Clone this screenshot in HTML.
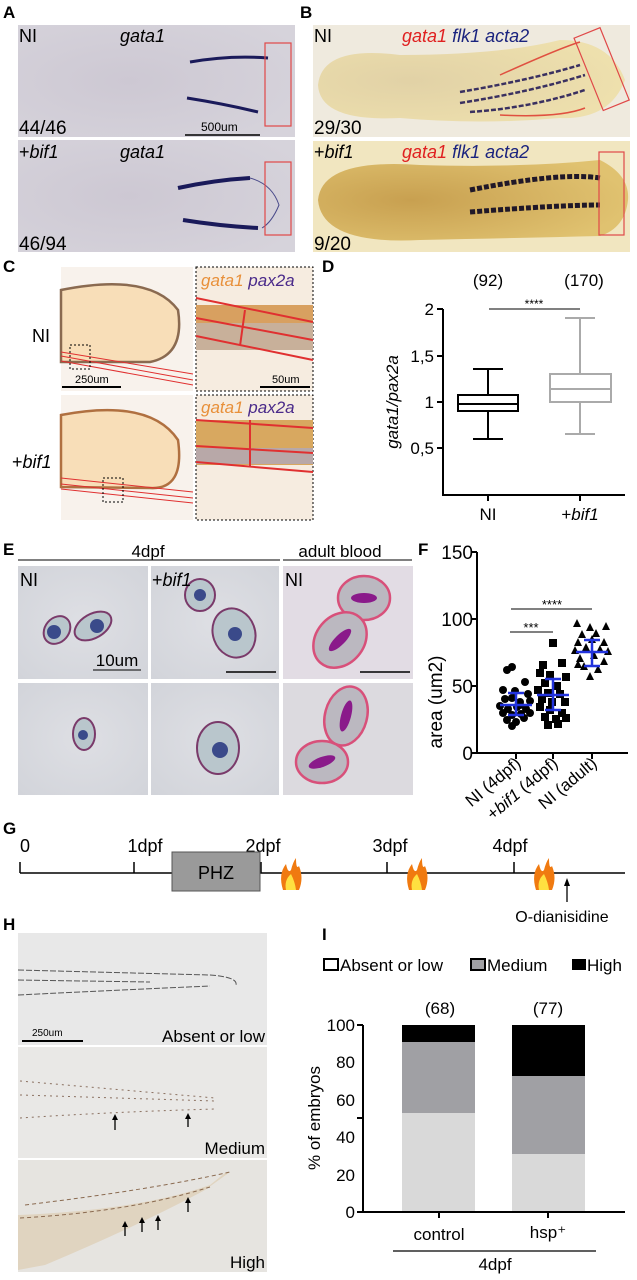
<!DOCTYPE html>
<html><head><meta charset="utf-8"><style>
html,body{margin:0;padding:0;background:#fff}
svg{display:block;font-family:"Liberation Sans",Arial,sans-serif}
</style></head><body>
<svg width="637" height="1280" viewBox="0 0 637 1280" xmlns="http://www.w3.org/2000/svg">
<defs>
<radialGradient id="embA" cx="0.4" cy="0.5" r="0.7"><stop offset="0" stop-color="#cdc8d3"/><stop offset="1" stop-color="#d6d3db"/></radialGradient>
<radialGradient id="embB1" cx="0.3" cy="0.5" r="0.7"><stop offset="0" stop-color="#e0cfa0"/><stop offset="1" stop-color="#eedfa8"/></radialGradient>
<radialGradient id="embB2" cx="0.3" cy="0.5" r="0.7"><stop offset="0" stop-color="#c8a050"/><stop offset="1" stop-color="#e0c270"/></radialGradient>
<radialGradient id="cellbg" cx="0.5" cy="0.5" r="0.7"><stop offset="0" stop-color="#dedfe4"/><stop offset="1" stop-color="#d2d4da"/></radialGradient>
</defs>
<g font-weight="bold" font-size="17">
<text x="3" y="18">A</text><text x="300" y="18">B</text><text x="3" y="272">C</text>
<text x="322" y="272">D</text><text x="3" y="555">E</text><text x="418" y="555">F</text>
<text x="3" y="834">G</text><text x="3" y="930">H</text><text x="322" y="940">I</text>
</g>
<!-- Panel A -->
<rect x="18" y="25" width="277" height="112" fill="url(#embA)"/>
<rect x="18" y="140" width="277" height="112" fill="url(#embA)"/>
<path d="M190 62 Q230 55 268 58" stroke="#1a1a5a" stroke-width="3" fill="none"/>
<path d="M187 98 Q225 104 258 112" stroke="#1a1a5a" stroke-width="3" fill="none"/>
<rect x="265" y="43" width="26" height="83" fill="none" stroke="#e04848" stroke-width="1.2"/>
<line x1="185" y1="135" x2="260" y2="135" stroke="#000" stroke-width="1.5"/>
<text x="201" y="131" font-size="12">500um</text>
<text x="19" y="42" font-size="18">NI</text><text x="120" y="42" font-size="18" font-style="italic">gata1</text>
<text x="19" y="134" font-size="19">44/46</text>
<path d="M250 178 Q272 184 279 205 Q272 222 262 228" stroke="#4a4a8a" stroke-width="1" fill="none"/>
<path d="M178 188 Q215 180 250 178" stroke="#1a1a5a" stroke-width="4" fill="none"/>
<path d="M183 220 Q220 226 258 228" stroke="#1a1a5a" stroke-width="4" fill="none"/>
<rect x="265" y="162" width="26" height="73" fill="none" stroke="#e04848" stroke-width="1.2"/>
<text x="19" y="158" font-size="18">+<tspan font-style="italic">bif1</tspan></text>
<text x="120" y="158" font-size="18" font-style="italic">gata1</text>
<text x="19" y="250" font-size="19">46/94</text>
<!-- Panel B -->
<rect x="313" y="25" width="317" height="112" fill="#efeade"/>
<path d="M318 85 Q322 45 400 55 Q500 55 560 40 Q610 40 625 80 Q610 120 560 118 Q480 125 400 118 Q320 122 318 85Z" fill="url(#embB1)" opacity="0.9"/>
<path d="M500 75 Q560 48 580 42 M500 115 Q560 118 585 108" stroke="#e05040" stroke-width="1.5" fill="none"/>
<path d="M460 92 Q530 80 580 65 M460 103 Q530 92 585 75 M470 112 Q530 108 585 90" stroke="#3a3060" stroke-width="2.5" stroke-dasharray="5 2" fill="none"/>
<rect x="588" y="30" width="28" height="78" fill="none" stroke="#e04848" stroke-width="1.2" transform="rotate(-22 602 70)"/>
<text x="314" y="42" font-size="18">NI</text>
<text x="402" y="42" font-size="18" font-style="italic"><tspan fill="#e02020">gata1</tspan> <tspan fill="#1a237e">flk1</tspan> <tspan fill="#1a237e">acta2</tspan></text>
<text x="314" y="134" font-size="19">29/30</text>
<rect x="313" y="141" width="317" height="111" fill="#f1e6c0"/>
<path d="M318 200 Q322 158 420 165 Q520 168 600 160 Q630 175 628 200 Q625 228 600 236 Q520 238 420 240 Q322 245 318 200Z" fill="url(#embB2)"/>
<path d="M470 190 Q560 172 600 178 M470 212 Q560 205 600 205" stroke="#201828" stroke-width="5" stroke-dasharray="5 2" fill="none"/>
<rect x="599" y="152" width="25" height="83" fill="none" stroke="#e04848" stroke-width="1.2"/>
<text x="314" y="158" font-size="18">+<tspan font-style="italic">bif1</tspan></text>
<text x="402" y="158" font-size="18" font-style="italic"><tspan fill="#e02020">gata1</tspan> <tspan fill="#1a237e">flk1</tspan> <tspan fill="#1a237e">acta2</tspan></text>
<text x="314" y="250" font-size="19">9/20</text>
<!-- Panel C -->
<rect x="61" y="267" width="132" height="124" fill="#f8f2ec"/>
<path d="M61 290 Q150 272 178 310 Q185 355 150 362 L61 362Z" fill="#f8deb8" stroke="#8a6a50" stroke-width="2.5"/>
<path d="M61 352 L193 374 M61 356 L193 380 M61 361 L193 385" stroke="#e03030" stroke-width="1"/>
<rect x="70" y="345" width="20" height="24" fill="none" stroke="#000" stroke-dasharray="2 2"/>
<line x1="62" y1="387" x2="121" y2="387" stroke="#000" stroke-width="2"/>
<text x="75" y="383" font-size="11">250um</text>
<rect x="61" y="395" width="132" height="125" fill="#f8f2ec"/>
<path d="M61 415 Q150 398 178 440 Q185 490 150 488 L61 487Z" fill="#f8deb8" stroke="#b07040" stroke-width="2.5"/>
<path d="M61 478 L193 492 M61 484 L193 498 M61 489 L193 503" stroke="#e03030" stroke-width="1"/>
<rect x="103" y="478" width="20" height="24" fill="none" stroke="#000" stroke-dasharray="2 2"/>
<rect x="196" y="267" width="117" height="124" fill="#f6ece0" stroke="#000" stroke-dasharray="2 2"/>
<rect x="196" y="305" width="117" height="45" fill="#c8b09a"/>
<rect x="196" y="305" width="117" height="18" fill="#d8a060"/>
<path d="M196 298 L313 322 M196 318 L313 340 M196 336 L313 360 M245 310 L240 346" stroke="#e03030" stroke-width="2"/>
<line x1="260" y1="387" x2="310" y2="387" stroke="#000" stroke-width="2"/>
<text x="272" y="383" font-size="11">50um</text>
<text x="201" y="286" font-size="17" font-style="italic"><tspan fill="#e8903a">gata1</tspan> <tspan fill="#4a2a8a">pax2a</tspan></text>
<rect x="196" y="395" width="117" height="125" fill="#f6ece0" stroke="#000" stroke-dasharray="2 2"/>
<rect x="196" y="420" width="117" height="45" fill="#d8a860"/>
<rect x="196" y="448" width="117" height="16" fill="#b8a8a8"/>
<path d="M196 420 L313 428 M196 446 L313 453 M196 462 L313 472 M250 420 L250 466" stroke="#e03030" stroke-width="2"/>
<text x="201" y="413" font-size="17" font-style="italic"><tspan fill="#e8903a">gata1</tspan> <tspan fill="#4a2a8a">pax2a</tspan></text>
<text x="32" y="342" font-size="18">NI</text>
<text x="12" y="468" font-size="18">+<tspan font-style="italic">bif1</tspan></text>
<!-- Panel D -->
<text x="488" y="286" font-size="17" text-anchor="middle">(92)</text>
<text x="584" y="286" font-size="17" text-anchor="middle">(170)</text>
<line x1="489" y1="309" x2="580" y2="309" stroke="#000"/>
<text x="534" y="308" font-size="12" text-anchor="middle">****</text>
<path d="M443 309 V495 H625" stroke="#000" stroke-width="2" fill="none"/>
<g stroke="#000" stroke-width="2"><line x1="437" y1="309" x2="443" y2="309"/><line x1="437" y1="356" x2="443" y2="356"/><line x1="437" y1="402" x2="443" y2="402"/><line x1="437" y1="448" x2="443" y2="448"/><line x1="488" y1="495" x2="488" y2="501"/><line x1="580" y1="495" x2="580" y2="501"/></g>
<g font-size="17" text-anchor="end"><text x="434" y="315">2</text><text x="434" y="362">1,5</text><text x="434" y="408">1</text><text x="434" y="454">0,5</text></g>
<text transform="translate(398 402) rotate(-90)" font-size="17" font-style="italic" text-anchor="middle">gata1/pax2a</text>
<g stroke="#000" stroke-width="2" fill="none"><line x1="488" y1="369" x2="488" y2="395"/><line x1="488" y1="411" x2="488" y2="439"/><line x1="473" y1="369" x2="503" y2="369"/><line x1="473" y1="439" x2="503" y2="439"/><rect x="458" y="395" width="60" height="16"/><line x1="458" y1="404" x2="518" y2="404"/></g>
<g stroke="#aaa" stroke-width="2" fill="none"><line x1="580" y1="318" x2="580" y2="374"/><line x1="580" y1="402" x2="580" y2="434"/><line x1="565" y1="318" x2="595" y2="318"/><line x1="565" y1="434" x2="595" y2="434"/><rect x="550" y="374" width="61" height="28"/><line x1="550" y1="389" x2="611" y2="389"/></g>
<text x="488" y="520" font-size="17" text-anchor="middle">NI</text>
<text x="580" y="520" font-size="17" text-anchor="middle">+<tspan font-style="italic">bif1</tspan></text>
<!-- Panel E -->
<text x="148" y="557" font-size="17" text-anchor="middle">4dpf</text>
<line x1="18" y1="560" x2="280" y2="560" stroke="#000"/>
<text x="340" y="557" font-size="17" text-anchor="middle">adult blood</text>
<line x1="283" y1="560" x2="412" y2="560" stroke="#000"/>
<rect x="18" y="566" width="130" height="113" fill="url(#cellbg)"/>
<rect x="151" y="566" width="128" height="113" fill="url(#cellbg)"/>
<rect x="283" y="566" width="130" height="113" fill="#e2dce4"/>
<rect x="18" y="683" width="130" height="112" fill="url(#cellbg)"/>
<rect x="151" y="683" width="128" height="112" fill="url(#cellbg)"/>
<rect x="283" y="683" width="130" height="112" fill="#dcdadf"/>
<g stroke="#7a3a6a" stroke-width="2" fill="#b9c6cc">
<ellipse cx="57" cy="630" rx="12" ry="15" transform="rotate(40 57 630)"/><ellipse cx="93" cy="626" rx="20" ry="12" transform="rotate(-30 93 626)"/>
<ellipse cx="200" cy="595" rx="15" ry="16"/><ellipse cx="234" cy="633" rx="21" ry="25" transform="rotate(-20 234 633)"/>
<ellipse cx="84" cy="734" rx="11" ry="16"/><ellipse cx="218" cy="748" rx="21" ry="26"/>
</g>
<g fill="#3a4a8a"><circle cx="54" cy="632" r="7"/><circle cx="97" cy="626" r="7"/><circle cx="200" cy="595" r="6"/><circle cx="235" cy="634" r="7"/><circle cx="83" cy="735" r="5"/><circle cx="220" cy="750" r="8"/></g>
<g stroke="#d8507a" stroke-width="2.5" fill="#bbb8c0">
<ellipse cx="364" cy="598" rx="26" ry="22"/><ellipse cx="340" cy="640" rx="24" ry="30" transform="rotate(40 340 640)"/>
<ellipse cx="346" cy="716" rx="21" ry="30" transform="rotate(15 346 716)"/><ellipse cx="322" cy="762" rx="26" ry="21"/>
</g>
<g fill="#8a1a8a"><ellipse cx="364" cy="598" rx="13" ry="5"/><ellipse cx="340" cy="640" rx="15" ry="5" transform="rotate(-45 340 640)"/><ellipse cx="346" cy="716" rx="5" ry="16" transform="rotate(15 346 716)"/><ellipse cx="322" cy="762" rx="14" ry="5" transform="rotate(-20 322 762)"/></g>
<text x="20" y="586" font-size="18">NI</text><text x="152" y="586" font-size="18">+<tspan font-style="italic">bif1</tspan></text><text x="285" y="586" font-size="18">NI</text>
<text x="117" y="666" font-size="17" text-anchor="middle">10um</text><line x1="93" y1="670" x2="141" y2="670" stroke="#000"/>
<line x1="226" y1="672" x2="276" y2="672" stroke="#000" stroke-width="1.5"/>
<line x1="360" y1="672" x2="410" y2="672" stroke="#000" stroke-width="1.5"/>
<!-- Panel F -->
<path d="M477 552 V753 H628" stroke="#000" stroke-width="2" fill="none"/>
<g stroke="#000" stroke-width="2"><line x1="471" y1="552" x2="477" y2="552"/><line x1="471" y1="619" x2="477" y2="619"/><line x1="471" y1="686" x2="477" y2="686"/><line x1="471" y1="753" x2="477" y2="753"/><line x1="516" y1="753" x2="516" y2="759"/><line x1="553" y1="753" x2="553" y2="759"/><line x1="592" y1="753" x2="592" y2="759"/></g>
<g font-size="19" text-anchor="end"><text x="473" y="559">150</text><text x="473" y="626">100</text><text x="473" y="693">50</text><text x="473" y="760">0</text></g>
<text transform="translate(442 702) rotate(-90)" font-size="19" text-anchor="middle">area (um2)</text>
<line x1="511" y1="609" x2="592" y2="609" stroke="#000"/><text x="552" y="609" font-size="13" text-anchor="middle">****</text>
<line x1="510" y1="632" x2="553" y2="632" stroke="#000"/><text x="531" y="632" font-size="13" text-anchor="middle">***</text>
<g fill="#000">
<circle cx="507" cy="670" r="4"/><circle cx="512" cy="667" r="4"/><circle cx="525" cy="682" r="4"/><circle cx="503" cy="690" r="4"/><circle cx="515" cy="691" r="4"/><circle cx="528" cy="694" r="4"/><circle cx="505" cy="699" r="4"/><circle cx="512" cy="698" r="4"/><circle cx="520" cy="702" r="4"/><circle cx="530" cy="701" r="4"/><circle cx="500" cy="706" r="4"/><circle cx="508" cy="709" r="4"/><circle cx="517" cy="707" r="4"/><circle cx="526" cy="709" r="4"/><circle cx="503" cy="713" r="4"/><circle cx="512" cy="715" r="4"/><circle cx="521" cy="714" r="4"/><circle cx="530" cy="713" r="4"/><circle cx="507" cy="720" r="4"/><circle cx="516" cy="722" r="4"/><circle cx="524" cy="718" r="4"/><circle cx="512" cy="726" r="4"/><circle cx="520" cy="705" r="4"/>
<rect x="549" y="639" width="8" height="8"/><rect x="539" y="661" width="8" height="8"/><rect x="558" y="659" width="8" height="8"/><rect x="536" y="669" width="8" height="8"/><rect x="546" y="671" width="8" height="8"/><rect x="562" y="673" width="8" height="8"/><rect x="541" y="679" width="8" height="8"/><rect x="553" y="682" width="8" height="8"/><rect x="534" y="686" width="8" height="8"/><rect x="544" y="689" width="8" height="8"/><rect x="556" y="690" width="8" height="8"/><rect x="538" y="695" width="8" height="8"/><rect x="548" y="698" width="8" height="8"/><rect x="561" y="698" width="8" height="8"/><rect x="536" y="703" width="8" height="8"/><rect x="546" y="706" width="8" height="8"/><rect x="558" y="709" width="8" height="8"/><rect x="541" y="713" width="8" height="8"/><rect x="552" y="715" width="8" height="8"/><rect x="562" y="714" width="8" height="8"/><rect x="544" y="721" width="8" height="8"/><rect x="554" y="720" width="8" height="8"/>
<path d="M573 627l4-8 4 8z M586 631l4-8 4 8z M602 630l4-8 4 8z M578 638l4-8 4 8z M592 637l4-8 4 8z M574 646l4-8 4 8z M588 643l4-8 4 8z M600 646l4-8 4 8z M571 654l4-8 4 8z M582 651l4-8 4 8z M596 653l4-8 4 8z M604 655l4-8 4 8z M576 662l4-8 4 8z M590 659l4-8 4 8z M600 665l4-8 4 8z M580 670l4-8 4 8z M594 673l4-8 4 8z M586 680l4-8 4 8z M574 668l4-8 4 8z"/>
</g>
<g stroke="#2233dd" stroke-width="2.5">
<line x1="500" y1="705" x2="532" y2="705"/><line x1="516" y1="693" x2="516" y2="715"/><line x1="508" y1="693" x2="524" y2="693"/><line x1="508" y1="715" x2="524" y2="715"/>
<line x1="537" y1="695" x2="569" y2="695"/><line x1="553" y1="679" x2="553" y2="710"/><line x1="545" y1="679" x2="561" y2="679"/><line x1="545" y1="710" x2="561" y2="710"/>
<line x1="576" y1="652" x2="608" y2="652"/><line x1="592" y1="640" x2="592" y2="666"/><line x1="584" y1="640" x2="600" y2="640"/><line x1="584" y1="666" x2="600" y2="666"/>
</g>
<g font-size="17" text-anchor="end">
<text transform="translate(522 765) rotate(-40)">NI (4dpf)</text>
<text transform="translate(559 765) rotate(-40)">+<tspan font-style="italic">bif1</tspan> (4dpf)</text>
<text transform="translate(598 765) rotate(-40)">NI (adult)</text>
</g>
<!-- Panel G -->
<line x1="20" y1="873" x2="625" y2="873" stroke="#000" stroke-width="1.5"/>
<g stroke="#000" stroke-width="1.5"><line x1="20" y1="862" x2="20" y2="873"/><line x1="134" y1="862" x2="134" y2="873"/><line x1="261" y1="862" x2="261" y2="873"/><line x1="387" y1="862" x2="387" y2="873"/><line x1="514" y1="862" x2="514" y2="873"/></g>
<g font-size="18" text-anchor="middle"><text x="25" y="852">0</text><text x="145" y="852">1dpf</text><text x="263" y="852">2dpf</text><text x="390" y="852">3dpf</text><text x="510" y="852">4dpf</text></g>
<rect x="172" y="852" width="88" height="39" fill="#9a9a9a" stroke="#555"/>
<text x="216" y="879" font-size="18" text-anchor="middle">PHZ</text>
<g transform="translate(0 52)"><path d="M283 838 Q278 822 286 812 Q288 822 291 818 Q293 810 296 806 Q296 818 299 814 Q304 826 299 838Z" fill="#f07a10"/><path d="M286 838 Q284 828 291 822 Q295 830 296 838Z" fill="#ffe040"/></g>
<g transform="translate(126 52)"><path d="M283 838 Q278 822 286 812 Q288 822 291 818 Q293 810 296 806 Q296 818 299 814 Q304 826 299 838Z" fill="#f07a10"/><path d="M286 838 Q284 828 291 822 Q295 830 296 838Z" fill="#ffe040"/></g>
<g transform="translate(253 52)"><path d="M283 838 Q278 822 286 812 Q288 822 291 818 Q293 810 296 806 Q296 818 299 814 Q304 826 299 838Z" fill="#f07a10"/><path d="M286 838 Q284 828 291 822 Q295 830 296 838Z" fill="#ffe040"/></g>
<line x1="567" y1="902" x2="567" y2="884" stroke="#000" stroke-width="1.3"/><path d="M564 886 L567 878 L570 886Z"/>
<text x="562" y="922" font-size="16" text-anchor="middle">O-dianisidine</text>
<!-- Panel H -->
<rect x="18" y="933" width="249" height="112" fill="#e8e8e8"/>
<rect x="18" y="1047" width="249" height="111" fill="#e9e8e6"/>
<rect x="18" y="1160" width="249" height="112" fill="#e6e4e0"/>
<g stroke="#555" fill="none" stroke-dasharray="6 2">
<path d="M18 970 L210 975 Q238 977 236 985"/><path d="M18 980 L150 982"/><path d="M18 995 Q120 990 210 986"/>
</g>
<line x1="22" y1="1041" x2="83" y2="1041" stroke="#000" stroke-width="2"/><text x="32" y="1036" font-size="10">250um</text>
<text x="265" y="1042" font-size="17" text-anchor="end">Absent or low</text>
<g stroke="#8a7060" fill="none" stroke-dasharray="2 4"><path d="M20 1081 L215 1098"/><path d="M20 1095 L215 1101"/><path d="M20 1118 Q110 1112 215 1109"/></g>
<g stroke="#000" stroke-width="1.3"><line x1="115" y1="1130" x2="115" y2="1118"/><line x1="188" y1="1127" x2="188" y2="1117"/></g>
<path d="M112 1120l3-6 3 6z M185 1119l3-6 3 6z"/>
<text x="265" y="1154" font-size="17" text-anchor="end">Medium</text>
<path d="M18 1215 Q140 1210 210 1185 L225 1173 L230 1172 L205 1190 Q140 1225 45 1265 L18 1270Z" fill="#e0d4c0"/>
<g stroke="#8a6a50" fill="none" stroke-dasharray="4 3"><path d="M25 1205 Q150 1190 230 1172"/><path d="M20 1218 Q130 1212 210 1187"/></g>
<g stroke="#000" stroke-width="1.3"><line x1="125" y1="1236" x2="125" y2="1225"/><line x1="142" y1="1232" x2="142" y2="1221"/><line x1="158" y1="1230" x2="158" y2="1219"/><line x1="188" y1="1212" x2="188" y2="1201"/></g>
<path d="M122 1227l3-6 3 6z M139 1223l3-6 3 6z M155 1221l3-6 3 6z M185 1203l3-6 3 6z"/>
<text x="265" y="1268" font-size="17" text-anchor="end">High</text>
<!-- Panel I -->
<g font-size="17">
<rect x="324" y="959" width="14" height="11" fill="#fff" stroke="#000" stroke-width="2"/><text x="340" y="971">Absent or low</text>
<rect x="471" y="959" width="14" height="11" fill="#a0a0a4" stroke="#000" stroke-width="2"/><text x="487" y="971">Medium</text>
<rect x="572" y="959" width="14" height="11" fill="#000"/><text x="587" y="971">High</text>
</g>
<text x="440" y="1014" font-size="17" text-anchor="middle">(68)</text>
<text x="548" y="1014" font-size="17" text-anchor="middle">(77)</text>
<rect x="402" y="1113" width="73" height="99" fill="#d9d9d9"/>
<rect x="402" y="1042" width="73" height="71" fill="#a0a0a4"/>
<rect x="402" y="1025" width="73" height="17" fill="#000"/>
<rect x="512" y="1154" width="73" height="58" fill="#d9d9d9"/>
<rect x="512" y="1076" width="73" height="78" fill="#a0a0a4"/>
<rect x="512" y="1025" width="73" height="51" fill="#000"/>
<path d="M363 1025 V1212 H625" stroke="#000" stroke-width="2" fill="none"/>
<g stroke="#000" stroke-width="2"><line x1="357" y1="1025" x2="363" y2="1025"/><line x1="357" y1="1118" x2="363" y2="1118"/><line x1="357" y1="1212" x2="363" y2="1212"/><line x1="439" y1="1212" x2="439" y2="1218"/><line x1="548" y1="1212" x2="548" y2="1218"/></g>
<g font-size="17" text-anchor="end"><text x="355" y="1031">100</text><text x="355" y="1068">80</text><text x="355" y="1106">60</text><text x="355" y="1143">40</text><text x="355" y="1181">20</text><text x="355" y="1218">0</text></g>
<text transform="translate(320 1118) rotate(-90)" font-size="17" text-anchor="middle">% of embryos</text>
<text x="439" y="1240" font-size="17" text-anchor="middle">control</text>
<text x="548" y="1238" font-size="17" text-anchor="middle">hsp⁺</text>
<line x1="393" y1="1251" x2="596" y2="1251" stroke="#000" stroke-width="1.3"/>
<text x="495" y="1270" font-size="17" text-anchor="middle">4dpf</text>
</svg>
</body></html>
